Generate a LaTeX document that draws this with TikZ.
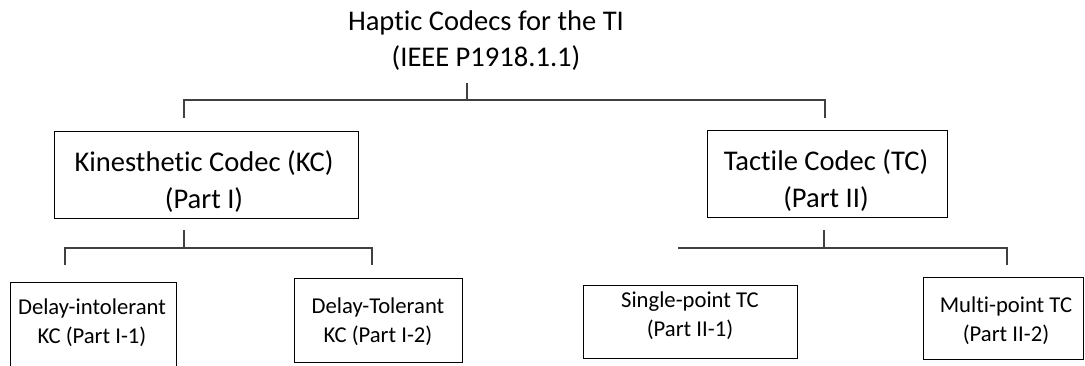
\documentclass[tikz,border=0pt]{standalone}
\usepackage{fontspec}
\setmainfont[RawFeature=-liga]{Carlito}
\begin{document}
\begin{tikzpicture}[x=0.75pt,y=-0.75pt,
  box/.style={draw=black,line width=1.1pt,rectangle,inner sep=0pt,anchor=north west},
  bigtxt/.style={align=center,inner sep=0pt,font=\fontsize{21.4}{27.75}\selectfont},
  smalltxt/.style={align=center,inner sep=0pt,font=\fontsize{17}{22}\selectfont},
  conn/.style={draw=black!75,line width=0.9pt}]
\useasboundingbox (0,0) rectangle (1085,365);
% title
\node[bigtxt,font=\fontsize{21.4}{27}\selectfont] (title) at (486,41) {Haptic Codecs for the TI\\(IEEE P1918.1.1)};
% level 1 boxes
\node[box,minimum width=304*0.75pt,minimum height=87*0.75pt] (kc) at (54,131) {};
\node[bigtxt] (kct) at (204,182) {Kinesthetic Codec (KC)\\(Part I)};
\node[box,minimum width=240*0.75pt,minimum height=87*0.75pt] (tc) at (707,130) {};
\node[bigtxt] (tct) at (826,181) {Tactile Codec (TC)\\(Part II)};
% level 2 boxes
\node[box,minimum width=166*0.75pt,minimum height=90*0.75pt] (di) at (10,282) {};
\node[smalltxt] (dit) at (92,323) {Delay-intolerant\\KC (Part I-1)};
\node[box,minimum width=168*0.75pt,minimum height=84*0.75pt] (dt) at (294,278) {};
\node[smalltxt] (dtt) at (378,322) {Delay-Tolerant\\KC (Part I-2)};
\node[box,minimum width=214*0.75pt,minimum height=73*0.75pt] (sp) at (583,285) {};
\node[smalltxt] (spt) at (690,316) {Single-point TC\\(Part II-1)};
\node[box,minimum width=160*0.75pt,minimum height=82*0.75pt] (mp) at (923,277) {};
\node[smalltxt] (mpt) at (1006,321) {Multi-point TC\\(Part II-2)};
% connector points
\coordinate (t0) at (467,83);
\coordinate (t1) at (467,100);
\coordinate (hl) at (184,100);
\coordinate (hr) at (825,100);
\coordinate (kcd) at (184,118);
\coordinate (tcd) at (825,118);
\coordinate (k0) at (184,230);
\coordinate (k1) at (184,248);
\coordinate (kl) at (65,248);
\coordinate (kr) at (372,248);
\coordinate (kld) at (65,265);
\coordinate (krd) at (372,265);
\coordinate (c0) at (824,230);
\coordinate (c1) at (824,248);
\coordinate (cl) at (678,248);
\coordinate (cr) at (1007,248);
\coordinate (crd) at (1007,265);
% connectors
\draw[conn] (t0) -- (t1);
\draw[conn] (kcd) -- (hl) -- (hr) -- (tcd);
\draw[conn] (k0) -- (k1);
\draw[conn] (kld) -- (kl) -- (kr) -- (krd);
\draw[conn] (c0) -- (c1);
\draw[conn] (cl) -- (cr) -- (crd);
\end{tikzpicture}
\end{document}
